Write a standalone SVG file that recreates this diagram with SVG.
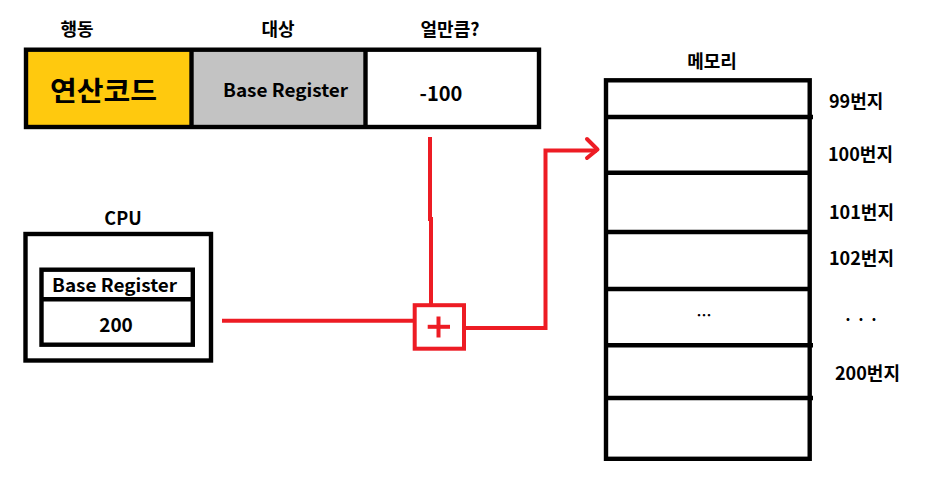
<svg xmlns="http://www.w3.org/2000/svg" width="929" height="492" viewBox="0 0 929 492">
<style>
text{font-family:"Noto Sans CJK KR","Noto Sans",sans-serif;font-weight:bold;fill:#000}
.box{fill:#fff;stroke:#000;stroke-width:4.4}
.ln{stroke:#000;stroke-width:4.4;fill:none}
.red{stroke:#ED1C24;stroke-width:4;fill:none}
.lbl{font-size:18px}
</style>
<rect width="929" height="492" fill="#fff"/>
<g id="instruction">
<text class="lbl" x="77" y="36" text-anchor="middle">행동</text>
<text class="lbl" x="278" y="36" text-anchor="middle">대상</text>
<text class="lbl" x="450" y="36" text-anchor="middle">얼만큼?</text>
<rect x="26" y="49.7" width="165.5" height="77.3" fill="#FFC90E"/>
<rect x="191.5" y="49.7" width="174" height="77.3" fill="#C3C3C3"/>
<rect x="26" y="49.7" width="513" height="77.3" class="ln"/>
<line x1="191.5" y1="49.7" x2="191.5" y2="127" class="ln"/>
<line x1="365.5" y1="49.7" x2="365.5" y2="127" class="ln"/>
<text x="50" y="101" font-size="27" textLength="107" lengthAdjust="spacingAndGlyphs">연산코드</text>
<text x="223" y="97" font-size="18" textLength="125" lengthAdjust="spacingAndGlyphs">Base Register</text>
<text x="441" y="101" font-size="20" text-anchor="middle">-100</text>
</g>
<g id="cpu">
<text class="lbl" x="123" y="225" text-anchor="middle">CPU</text>
<rect x="25.5" y="234" width="185.5" height="126.5" class="box"/>
<rect x="41.5" y="269.7" width="151.3" height="75" class="box"/>
<line x1="41.5" y1="299.3" x2="192.8" y2="299.3" class="ln"/>
<text x="52" y="292" font-size="18" textLength="125" lengthAdjust="spacingAndGlyphs">Base Register</text>
<text x="116" y="332" font-size="19" text-anchor="middle">200</text>
</g>
<g id="adder">
<rect x="414.7" y="305.2" width="49.3" height="43.5" fill="#fff" class="red"/>
<line x1="427.7" y1="326.8" x2="450" y2="326.8" class="red"/>
<line x1="438.5" y1="316.5" x2="438.5" y2="337.5" class="red"/>
</g>
<g id="memory">
<text class="lbl" x="712" y="68" text-anchor="middle">메모리</text>
<rect x="606" y="80.3" width="203.7" height="378.5" class="box"/>
<line x1="606" y1="117" x2="813" y2="117" class="ln"/>
<line x1="606" y1="172.7" x2="809.7" y2="172.7" class="ln"/>
<line x1="606" y1="232" x2="809.7" y2="232" class="ln"/>
<line x1="606" y1="289" x2="809.7" y2="289" class="ln"/>
<line x1="606" y1="345.3" x2="813" y2="345.3" class="ln"/>
<line x1="606" y1="398" x2="813" y2="398" class="ln"/>
<text x="704" y="321" font-size="15" text-anchor="middle">…</text>
<text class="lbl" x="829" y="108">99번지</text>
<text class="lbl" x="828" y="161">100번지</text>
<text class="lbl" x="829" y="219">101번지</text>
<text class="lbl" x="829" y="265">102번지</text>
<text x="861" y="325" font-size="16" text-anchor="middle">· · ·</text>
<text class="lbl" x="835" y="380">200번지</text>
</g>
<g id="connectors">
<polyline points="430,137 430,219 431,219 431,305" class="red"/>
<line x1="222" y1="320.8" x2="414.7" y2="320.8" class="red"/>
<polyline points="464,328 545.5,328 545.5,150.5 597,150.5" class="red"/>
<polyline points="587,139 597.5,149.5 587,158" class="red" stroke-linecap="round" stroke-linejoin="round"/>
</g>
</svg>
